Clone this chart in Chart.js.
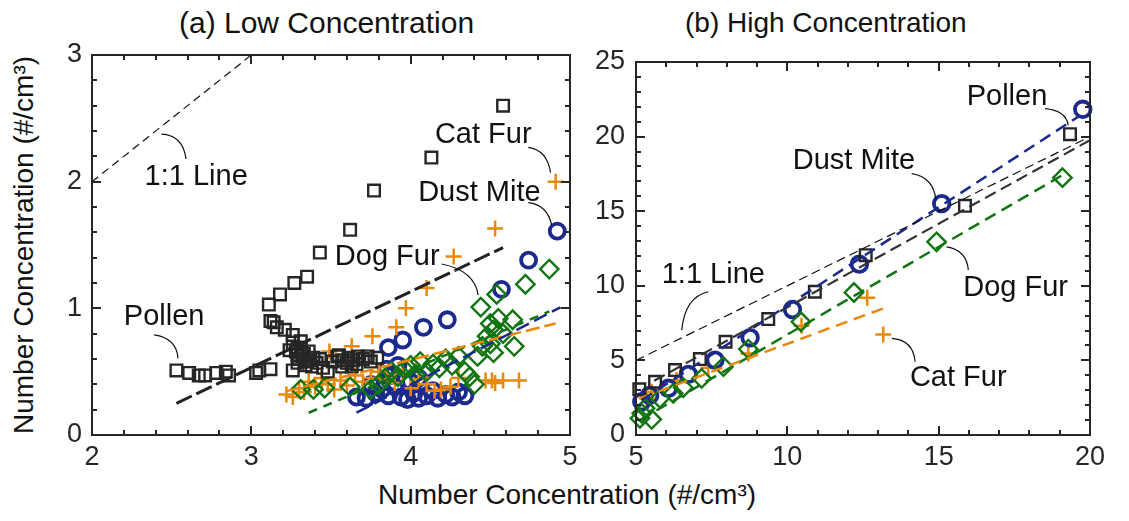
<!DOCTYPE html>
<html>
<head>
<meta charset="utf-8">
<script src="https://cdn.jsdelivr.net/npm/chart.js@4.4.1/dist/chart.umd.min.js"></script>
<style>
  body { margin: 0; background: #fff; width: 1129px; height: 521px; position: relative; overflow: hidden;
         font-family: "Liberation Sans", Arial, sans-serif; color: #111; }
  canvas { position: absolute; top: 0; }
  #chartA { left: 0; }
  #chartB { left: 585px; }
  .txt { position: absolute; font-size: 28px; line-height: 28px; white-space: nowrap; }
  #ytitle { left: 24px; top: 245px; transform: translate(-50%, -50%) rotate(-90deg); }
</style>
</head>
<body>
<div class="txt" style="left:179px; top:8px; font-size:30px; line-height:30px">(a) Low Concentration</div>
<div class="txt" style="left:685px; top:9px">(b) High Concentration</div>
<div class="txt" style="left:567px; top:481px; transform: translateX(-50%)">Number Concentration (#/cm³)</div>
<div class="txt" id="ytitle">Number Concentration (#/cm³)</div>
<canvas id="chartA" width="585" height="521"></canvas>
<canvas id="chartB" width="544" height="521"></canvas>
<script>
// ---- (a) low concentration ----
const lowPollenX = [2.53, 2.61, 2.67, 2.71, 2.78, 2.84, 2.86, 3.03, 3.05, 3.12, 3.11, 3.12, 3.14, 3.16, 3.21,
  3.26, 3.26, 3.29, 3.29, 3.32, 3.29, 3.35, 3.37, 3.38, 3.41, 3.45, 3.48, 3.26, 3.54, 3.57, 3.61, 3.64, 3.67,
  3.73, 3.79, 3.57, 3.63, 3.18, 3.27, 3.35, 3.43, 3.62, 3.77, 4.13, 4.58,
  3.24, 3.28, 3.31, 3.33, 3.30, 3.34, 3.39, 3.43, 3.51, 3.55, 3.60, 3.66, 3.70, 3.75, 3.31, 3.36];
const lowPollenY = [0.51, 0.49, 0.47, 0.47, 0.49, 0.50, 0.47, 0.49, 0.51, 0.52, 1.03, 0.90, 0.89, 0.85, 0.83,
  0.79, 0.73, 0.69, 0.63, 0.62, 0.57, 0.58, 0.59, 0.54, 0.57, 0.53, 0.50, 0.51, 0.62, 0.59, 0.61, 0.59, 0.62,
  0.62, 0.61, 0.54, 0.54, 1.11, 1.20, 1.25, 1.44, 1.62, 1.93, 2.19, 2.60,
  0.67, 0.66, 0.68, 0.64, 0.60, 0.55, 0.61, 0.60, 0.58, 0.63, 0.57, 0.56, 0.60, 0.58, 0.74, 0.66];

const lowMiteX = [3.66, 3.72, 3.78, 3.82, 3.86, 3.90, 3.94, 3.98, 4.02, 4.05, 4.10, 4.14, 4.17, 4.22, 4.26,
  4.30, 4.34, 3.88, 3.92, 3.85, 4.00, 4.05, 3.75, 3.86, 3.95, 4.08, 4.23, 4.57, 4.74, 4.92];
const lowMiteY = [0.30, 0.29, 0.33, 0.36, 0.31, 0.38, 0.30, 0.28, 0.33, 0.29, 0.31, 0.35, 0.29, 0.32, 0.30,
  0.34, 0.31, 0.47, 0.55, 0.52, 0.42, 0.45, 0.40, 0.69, 0.75, 0.85, 0.91, 1.15, 1.38, 1.61];

const lowCatX = [3.49, 3.63, 3.76, 3.91, 3.97, 4.10, 4.27, 4.53, 4.91, 3.22, 3.26, 3.30, 3.33, 3.36, 3.40,
  3.44, 3.48, 3.52, 3.56, 3.60, 3.65, 3.70, 3.75, 3.80, 3.85, 3.90, 3.95, 4.00, 4.05, 4.10, 4.15, 4.19, 4.25,
  4.30, 4.47, 4.51, 4.53, 4.58, 4.68];
const lowCatY = [0.66, 0.70, 0.78, 0.85, 1.00, 1.16, 1.41, 1.63, 2.00, 0.32, 0.30, 0.37, 0.34, 0.42, 0.38,
  0.45, 0.40, 0.36, 0.43, 0.39, 0.47, 0.42, 0.45, 0.50, 0.44, 0.41, 0.48, 0.37, 0.44, 0.40, 0.35, 0.36, 0.38,
  0.45, 0.43, 0.43, 0.41, 0.43, 0.43];

const lowDogX = [3.31, 3.39, 3.46, 3.62, 3.75, 3.80, 3.84, 3.88, 3.92, 3.96, 4.00, 4.03, 4.06, 4.10, 4.14,
  4.18, 4.22, 4.26, 4.30, 4.34, 4.37, 4.40, 4.42, 4.45, 4.48, 4.50, 4.52, 4.44, 4.50, 4.52, 4.54, 4.55, 4.58,
  4.64, 4.65, 4.72, 4.87];
const lowDogY = [0.36, 0.36, 0.37, 0.38, 0.36, 0.40, 0.45, 0.50, 0.46, 0.52, 0.55, 0.48, 0.58, 0.50, 0.56,
  0.53, 0.60, 0.55, 0.62, 0.50, 0.46, 0.40, 0.62, 0.70, 0.78, 0.72, 0.65, 1.01, 0.88, 0.83, 1.11, 0.92, 0.80,
  0.91, 0.70, 1.19, 1.31];

// linear fits, order: Pollen, Dust Mite, Cat Fur, Dog Fur
const lowFitSlope = [0.60, 0.65, 0.316, 0.53];
const lowFitIntercept = [-1.268, -2.203, -0.671, -1.605];
const lowFitFrom = [2.53, 3.66, 3.22, 3.36];
const lowFitTo = [4.58, 4.94, 4.91, 4.87];

// ---- (b) high concentration ----
const highPollenX = [5.11, 5.63, 6.29, 7.11, 7.96, 9.37, 10.91, 12.59, 15.87, 19.34];
const highPollenY = [3.06, 3.57, 4.35, 5.09, 6.25, 7.77, 9.60, 12.05, 15.36, 20.16];
const highMiteX = [5.19, 5.45, 6.07, 6.73, 7.61, 8.77, 10.17, 12.38, 15.10, 19.76];
const highMiteY = [2.23, 2.65, 3.13, 4.06, 5.02, 6.52, 8.41, 11.45, 15.51, 21.83];
const highCatX = [5.35, 5.52, 6.34, 7.39, 8.71, 10.47, 12.64, 13.17];
const highCatY = [2.46, 2.90, 3.68, 4.51, 5.47, 7.32, 9.20, 6.74];
const highDogX = [5.13, 5.19, 5.30, 5.52, 5.79, 6.23, 6.56, 7.17, 7.89, 8.71, 10.45, 12.20, 14.93, 19.09];
const highDogY = [1.12, 1.45, 1.79, 1.05, 2.46, 2.79, 3.17, 3.79, 4.58, 5.76, 7.59, 9.55, 12.95, 17.25];

const highFitSlope = [1.12, 1.317, 0.749, 1.176];
const highFitIntercept = [-2.64, -4.495, -1.38, -5.03];
const highFitFrom = [5.6, 5.19, 5.13, 5.13];
const highFitTo = [20, 19.6, 13.17, 19.07];

const BLACK = '#262626', BLUE = '#1b2a8c', ORANGE = '#e8890c', GREEN = '#127512';
const FONT = "'Liberation Sans', Arial, sans-serif";

// text labels with curved leader lines, in data units
const lowNotes = [
  { text: '1:1 Line', at: [2.33, 2.04], from: [2.59, 2.18], ctrl: [2.57, 2.37], to: [2.435, 2.376] },
  { text: 'Pollen', at: [2.2, 0.934], from: [2.39, 0.79], ctrl: [2.53, 0.765], to: [2.54, 0.605] },
  { text: 'Dog Fur', at: [3.524, 1.403], from: [4.194, 1.35], ctrl: [4.40, 1.30], to: [4.424, 1.105] },
  { text: 'Dust Mite', at: [4.047, 1.913], from: [4.738, 1.834], ctrl: [4.857, 1.816], to: [4.885, 1.658] },
  { text: 'Cat Fur', at: [4.152, 2.368], from: [4.738, 2.271], ctrl: [4.857, 2.25], to: [4.878, 2.071] }
];
const highNotes = [
  { text: 'Pollen', at: [15.925, 22.66], from: [18.51, 21.875], ctrl: [19.21, 21.76], to: [19.28, 20.76] },
  { text: 'Dust Mite', at: [10.18, 18.37], from: [14.11, 17.52], ctrl: [14.82, 17.3], to: [14.91, 15.78] },
  { text: '1:1 Line', at: [5.85, 10.71], from: [7.39, 9.6], ctrl: [6.62, 9.26], to: [6.51, 7.03] },
  { text: 'Dog Fur', at: [15.81, 9.82], from: [15.26, 12.61], ctrl: [15.93, 12.39], to: [15.98, 11.05] },
  { text: 'Cat Fur', at: [14.05, 3.79], from: [13.45, 6.47], ctrl: [14.16, 6.36], to: [14.22, 4.91] }
];

Chart.defaults.font.family = FONT;
Chart.defaults.color = '#262626';
Chart.defaults.animation = false;

// box around the plot with inward major/minor ticks on all four sides
const frame = {
  id: 'frame',
  afterDatasetsDraw(chart, args, opts) {
    const { ctx, chartArea: a, scales: { x, y } } = chart;
    ctx.save();
    ctx.strokeStyle = '#262626';
    ctx.lineWidth = 2;
    ctx.beginPath();
    const eps = 1e-6;
    for (let v = x.min; v <= x.max + eps; v += opts.xMinor) {
      const major = Math.abs(v / opts.xMajor - Math.round(v / opts.xMajor)) < 1e-3;
      const len = major ? 9 : 5;
      const px = Math.round(x.getPixelForValue(v));
      ctx.moveTo(px, a.bottom); ctx.lineTo(px, a.bottom - len);
      ctx.moveTo(px, a.top); ctx.lineTo(px, a.top + len);
    }
    for (let v = y.min; v <= y.max + eps; v += opts.yMinor) {
      const major = Math.abs(v / opts.yMajor - Math.round(v / opts.yMajor)) < 1e-3;
      const len = major ? 9 : 5;
      const py = Math.round(y.getPixelForValue(v));
      ctx.moveTo(a.left, py); ctx.lineTo(a.left + len, py);
      ctx.moveTo(a.right, py); ctx.lineTo(a.right - len, py);
    }
    ctx.stroke();
    ctx.strokeRect(a.left, a.top, a.right - a.left, a.bottom - a.top);
    ctx.restore();
  }
};

const notes = {
  id: 'notes',
  afterDraw(chart, args, opts) {
    const { ctx, scales: { x, y } } = chart;
    const P = p => [x.getPixelForValue(p[0]), y.getPixelForValue(p[1])];
    ctx.save();
    ctx.fillStyle = '#111';
    ctx.strokeStyle = '#111';
    ctx.lineWidth = 1.2;
    ctx.font = '29px ' + FONT;
    ctx.textAlign = 'left';
    ctx.textBaseline = 'middle';
    opts.items.forEach(n => {
      const t = P(n.at);
      ctx.fillText(n.text, t[0], t[1]);
      const f = P(n.from), c = P(n.ctrl), e = P(n.to);
      ctx.beginPath();
      ctx.moveTo(f[0], f[1]);
      ctx.quadraticCurveTo(c[0], c[1], e[0], e[1]);
      ctx.stroke();
    });
    ctx.restore();
  }
};

function markers(xs, ys, style, color, radius, width, order) {
  return {
    data: xs.map((v, i) => ({ x: v, y: ys[i] })),
    pointStyle: style, pointRadius: radius, pointBorderColor: color, pointBorderWidth: width,
    pointBackgroundColor: 'rgba(0,0,0,0)', showLine: false, clip: false, order
  };
}

function fitLine(from, to, slope, icpt, color, width, dash, order) {
  return {
    data: [{ x: from, y: slope * from + icpt }, { x: to, y: slope * to + icpt }],
    showLine: true, borderColor: color, borderWidth: width, borderDash: dash,
    pointRadius: 0, order
  };
}

function axes(xmin, xmax, xstep, ymin, ymax, ystep, yWidth, yPad) {
  const common = { grid: { display: false, drawTicks: false }, border: { display: false } };
  return {
    x: Object.assign({ type: 'linear', min: xmin, max: xmax,
      ticks: { stepSize: xstep, font: { size: 27 }, padding: 6, color: '#262626' },
      afterFit: s => { s.height = 40; } }, common),
    y: Object.assign({ type: 'linear', min: ymin, max: ymax,
      ticks: { stepSize: ystep, font: { size: 27 }, padding: yPad, color: '#262626' },
      afterFit: s => { s.width = yWidth; } }, common)
  };
}

const lowSets = [
  fitLine(2, 3, 1, 0, '#111', 1.2, [8, 5], 0),
  fitLine(lowFitFrom[0], lowFitTo[0], lowFitSlope[0], lowFitIntercept[0], '#222', 3, [17, 5], 1),
  fitLine(lowFitFrom[1], lowFitTo[1], lowFitSlope[1], lowFitIntercept[1], BLUE, 2.5, [14, 6], 1),
  fitLine(lowFitFrom[2], lowFitTo[2], lowFitSlope[2], lowFitIntercept[2], ORANGE, 2.5, [14, 5], 1),
  fitLine(lowFitFrom[3], lowFitTo[3], lowFitSlope[3], lowFitIntercept[3], GREEN, 2.5, [9, 7], 1),
  markers(lowDogX, lowDogY, 'rectRot', GREEN, 9.2, 2.4, 2),
  markers(lowPollenX, lowPollenY, 'rect', BLACK, 8.2, 2.4, 3),
  markers(lowCatX, lowCatY, 'cross', ORANGE, 8, 2.5, 4),
  markers(lowMiteX, lowMiteY, 'circle', BLUE, 7.5, 3.8, 5)
];

const highSets = [
  fitLine(5, 20, 1, 0, '#111', 1.2, [9, 5], 0),
  fitLine(highFitFrom[0], highFitTo[0], highFitSlope[0], highFitIntercept[0], '#333', 2.2, [12, 6], 1),
  fitLine(highFitFrom[1], highFitTo[1], highFitSlope[1], highFitIntercept[1], BLUE, 2.5, [12, 7], 1),
  fitLine(highFitFrom[2], highFitTo[2], highFitSlope[2], highFitIntercept[2], ORANGE, 2.5, [12, 7], 1),
  fitLine(highFitFrom[3], highFitTo[3], highFitSlope[3], highFitIntercept[3], GREEN, 2.5, [12, 7], 1),
  markers(highDogX, highDogY, 'rectRot', GREEN, 9.2, 2.4, 2),
  markers(highPollenX, highPollenY, 'rect', BLACK, 8.2, 2.4, 3),
  markers(highMiteX, highMiteY, 'circle', BLUE, 7.8, 3.8, 4),
  markers(highCatX, highCatY, 'cross', ORANGE, 8, 2.5, 5)
];

function build(id, sets, scales, pad, frameOpts, items) {
  return new Chart(document.getElementById(id), {
    type: 'scatter',
    data: { datasets: sets },
    options: {
      responsive: false,
      events: [],
      layout: { padding: pad },
      scales,
      plugins: {
        legend: { display: false },
        tooltip: { enabled: false },
        frame: frameOpts,
        notes: { items }
      }
    },
    plugins: [frame, notes]
  });
}

build('chartA', lowSets, axes(2, 5, 1, 0, 3, 1, 92, 10),
  { top: 55, right: 15, bottom: 46, left: 0 },
  { xMinor: 0.2, xMajor: 1, yMinor: 0.2, yMajor: 1 }, lowNotes);

build('chartB', highSets, axes(5, 20, 5, 0, 25, 5, 51, 11),
  { top: 62, right: 39, bottom: 46, left: 0 },
  { xMinor: 1, xMajor: 5, yMinor: 1, yMajor: 5 }, highNotes);
</script>
</body>
</html>
